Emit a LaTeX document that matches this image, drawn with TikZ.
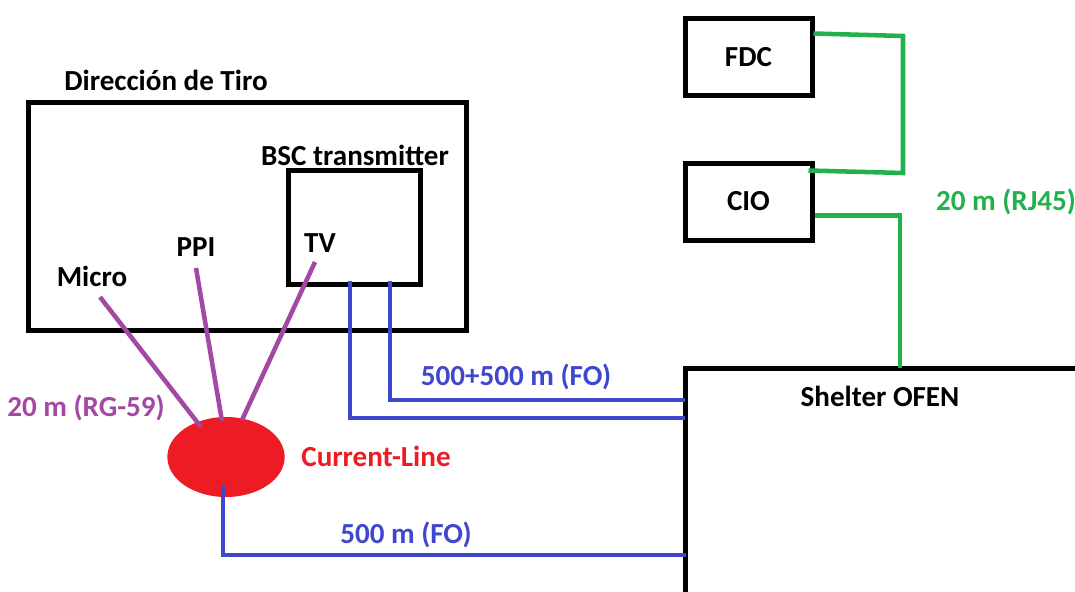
\documentclass[tikz,border=0pt]{standalone}
\usepackage{fontspec}
\setmainfont{Carlito}
\usetikzlibrary{calc,shapes.geometric}
\definecolor{cpurple}{HTML}{A349A4}
\definecolor{cblue}{HTML}{3F48CC}
\definecolor{cgreen}{HTML}{22B14C}
\definecolor{cred}{HTML}{ED1C24}
\tikzset{
  box/.style={draw=black,line width=3.75pt,inner sep=0pt,rectangle},
  lbl/.style={inner sep=0pt,font=\fontsize{21.8}{24}\selectfont\bfseries},
  clbl/.style={inner sep=0pt,font=\fontsize{21.8}{24}\selectfont\bfseries},
  wall/.style={draw=black,line width=3.75pt},
  rg/.style={draw=cpurple,line width=3.4pt},
  fo/.style={draw=cblue,line width=3.4pt},
  rj/.style={draw=cgreen,line width=3.4pt},
}
\begin{document}
\begin{tikzpicture}[x=0.75pt,y=-0.75pt]
\useasboundingbox[fill=white] (0,0) rectangle (1075,592);
% boxes
\node[box,minimum width=328.5pt,minimum height=170.25pt] (dir) at (247,216.5) {};
\node[box,minimum width=99pt,minimum height=85.5pt] (bsc) at (354,227) {};
\node[box,minimum width=95.25pt,minimum height=57.75pt] (fdc) at (748.5,57.5) {};
\node[box,minimum width=95.25pt,minimum height=57.75pt] (cio) at (748.5,201.5) {};
\node[ellipse,fill=cred,inner sep=0pt,minimum width=88pt,minimum height=60pt] (cl) at (226,457) {};
% shelter wall
\coordinate (shb) at (685,600);
\coordinate (shc) at (685,368);
\coordinate (shr) at (1080,368);
\draw[wall] (shb) -- (shc) -- (shr);
% labels
\node[lbl] (tdir) at (166,80) {Dirección de Tiro};
\node[lbl] (tbsc) at (355,155) {BSC transmitter};
\node[lbl] (ttv) at (320,243) {TV};
\node[lbl] (tppi) at (196,247) {PPI};
\node[lbl] (tmic) at (92,276) {Micro};
\node[lbl] (tfdc) at (fdc) {FDC};
\node[lbl] (tcio) at (cio) {CIO};
\node[lbl] (tsh) at (880,396) {Shelter OFEN};
\node[clbl,text=cpurple] (trg) at (86,408) {20 m (RG-59)};
\node[clbl,text=cred] (tcl) at (376,456) {Current-Line};
\node[clbl,text=cblue] (tfo2) at (516,377) {500+500 m (FO)};
\node[clbl,text=cblue] (tfo1) at (406,535) {500 m (FO)};
\node[clbl,text=cgreen] (trj) at (1006,202) {20 m (RJ45)};
% purple RG-59 wires
\coordinate (m1) at (100,297);
\coordinate (p1) at (196,268);
\coordinate (v1) at (315,262);
\draw[rg] (m1) -- ($(cl.center)+(-25,-30)$);
\draw[rg] (p1) -- ($(cl.center)+(-4,-36)$);
\draw[rg] (v1) -- ($(cl.center)+(16,-37)$);
% blue FO
\coordinate (wa) at (685,418);
\coordinate (wb) at (685,400);
\coordinate (wc) at (686,555);
\draw[fo] ($(bsc.south)+(-4,-6)$) |- (wa);
\draw[fo] ($(bsc.south)+(36,-6)$) |- (wb);
\draw[fo] ($(cl.center)+(-3,29)$) |- (wc);
% green RJ45
\coordinate (g1) at (903,36);
\coordinate (g2) at (903,173);
\coordinate (g3) at (900,368);
\draw[rj] ($(fdc.north east)+(-1,17)$) -- (g1) -- (g2) -- ($(cio.north east)+(-6,10)$);
\draw[rj] ($(cio.north east)+(0,55)$) -| (g3);
\end{tikzpicture}
\end{document}
